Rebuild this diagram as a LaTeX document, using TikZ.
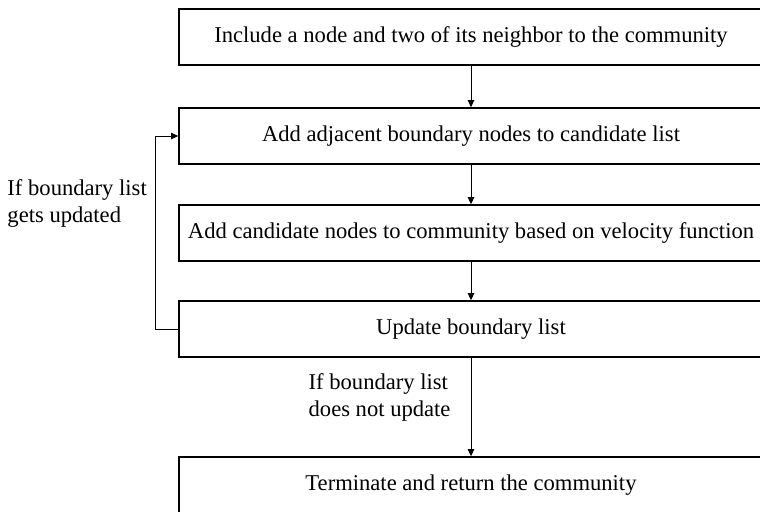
\documentclass[tikz,border=0pt]{standalone}
\usepackage{fontspec}
\setmainfont{Liberation Serif}
\usetikzlibrary{arrows.meta,positioning,calc}

\begin{document}
\begin{tikzpicture}[x=0.5pt,y=-0.5pt,
  stepbox/.style={draw,line width=0.7pt,minimum width=292pt,minimum height=28pt,inner sep=2pt,font=\fontsize{11.3}{13.5}\selectfont},
  flow/.style={-{Triangle[length=3.6pt,width=3.2pt]},line width=0.5pt},
  cond/.style={align=left,font=\fontsize{11.3}{13.5}\selectfont,inner sep=2pt}]
\useasboundingbox (0,0) rectangle (760,511);
\node[stepbox] (init) at (471,37) {Include a node and two of its neighbor to the community};
\node[stepbox] (adj) at (471,136) {Add adjacent boundary nodes to candidate list};
\node[stepbox] (cand) at (471,233) {Add candidate nodes to community based on velocity function};
\node[stepbox] (upd) at (471,329) {Update boundary list};
\node[stepbox] (term) at (471,485) {Terminate and return the community};
\draw[flow] (init)--(adj);\draw[flow] (adj)--(cand);\draw[flow] (cand)--(upd);
\draw[flow] (upd)--(term) node[cond,pos=0.4,left=8pt] {If boundary list\\does not update};
% loop back while the boundary keeps changing
\draw[flow] (upd.west)--++(-23,0) |- (adj.west) node[cond,pos=0.325,left=2pt] {If boundary list\\gets updated};
\end{tikzpicture}
\end{document}
